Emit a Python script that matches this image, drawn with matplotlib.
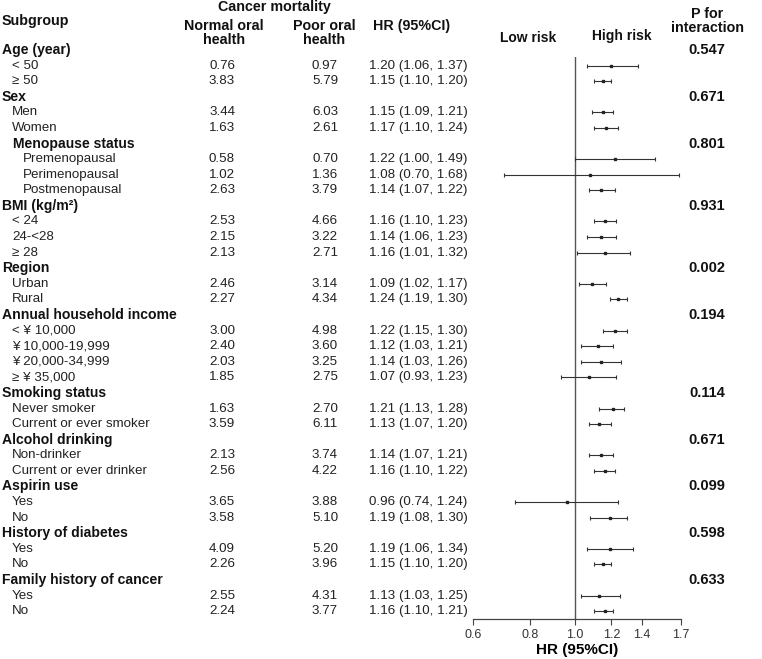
import matplotlib
matplotlib.use("Agg")
import matplotlib.pyplot as plt
from matplotlib.transforms import blended_transform_factory
import numpy as np

plt.rcParams['font.family'] = ['Liberation Sans', 'DejaVu Sans']

# ---- data ----
row_labels = ["Age (year)", "< 50", "≥ 50",
              "Sex", "Men", "Women",
              "Menopause status", "Premenopausal", "Perimenopausal", "Postmenopausal",
              "BMI (kg/m²)", "< 24", "24-<28", "≥ 28",
              "Region", "Urban", "Rural",
              "Annual household income", "< ¥ 10,000", "¥ 10,000-19,999", "¥ 20,000-34,999", "≥ ¥ 35,000",
              "Smoking status", "Never smoker", "Current or ever smoker",
              "Alcohol drinking", "Non-drinker", "Current or ever drinker",
              "Aspirin use", "Yes", "No",
              "History of diabetes", "Yes", "No",
              "Family history of cancer", "Yes", "No"]
# 0 = group header, 1 = sub-group, 2 = bold nested header, 3 = nested item
row_levels = [0, 1, 1,
              0, 1, 1,
              2, 3, 3, 3,
              0, 1, 1, 1,
              0, 1, 1,
              0, 1, 1, 1, 1,
              0, 1, 1,
              0, 1, 1,
              0, 1, 1,
              0, 1, 1,
              0, 1, 1]
p_interaction = ["0.547", "0.671", "0.801", "0.931", "0.002", "0.194",
                 "0.114", "0.671", "0.099", "0.598", "0.633"]

normal_rate = [0.76, 3.83, 3.44, 1.63, 0.58, 1.02, 2.63, 2.53, 2.15, 2.13, 2.46, 2.27,
               3.00, 2.40, 2.03, 1.85, 1.63, 3.59, 2.13, 2.56, 3.65, 3.58, 4.09, 2.26,
               2.55, 2.24]
poor_rate = [0.97, 5.79, 6.03, 2.61, 0.70, 1.36, 3.79, 4.66, 3.22, 2.71, 3.14, 4.34,
             4.98, 3.60, 3.25, 2.75, 2.70, 6.11, 3.74, 4.22, 3.88, 5.10, 5.20, 3.96,
             4.31, 3.77]
hr = [1.20, 1.15, 1.15, 1.17, 1.22, 1.08, 1.14, 1.16, 1.14, 1.16, 1.09, 1.24,
      1.22, 1.12, 1.14, 1.07, 1.21, 1.13, 1.14, 1.16, 0.96, 1.19, 1.19, 1.15,
      1.13, 1.16]
ci_low = [1.06, 1.10, 1.09, 1.10, 1.00, 0.70, 1.07, 1.10, 1.06, 1.01, 1.02, 1.19,
          1.15, 1.03, 1.03, 0.93, 1.13, 1.07, 1.07, 1.10, 0.74, 1.08, 1.06, 1.10,
          1.03, 1.10]
ci_high = [1.37, 1.20, 1.21, 1.24, 1.49, 1.68, 1.22, 1.23, 1.23, 1.32, 1.17, 1.30,
           1.30, 1.21, 1.26, 1.23, 1.28, 1.20, 1.21, 1.22, 1.24, 1.30, 1.34, 1.20,
           1.25, 1.21]
x_ticks = [0.6, 0.8, 1.0, 1.2, 1.4, 1.7]

# ---- figure ----
W, H = 762, 659
fig = plt.figure(figsize=(W / 100, H / 100), dpi=100)

def fx(px):
    return px / W

def fy(py):
    return 1 - py / H

ax_left, ax_right, ax_top, ax_bot = 473, 681, 57, 619
ax = fig.add_axes([fx(ax_left), fy(ax_bot), (ax_right - ax_left) / W, (ax_bot - ax_top) / H])
ax.set_xscale('log')
ax.set_xlim(x_ticks[0], x_ticks[-1])
ax.set_ylim(36.5, 0.45)
for s in ['left', 'top', 'right']:
    ax.spines[s].set_visible(False)
ax.spines['bottom'].set_color('#444444')
ax.spines['bottom'].set_linewidth(0.9)
ax.set_yticks([])
ax.set_xticks(x_ticks)
ax.set_xticklabels([f"{t:.1f}" for t in x_ticks])
ax.xaxis.set_minor_locator(matplotlib.ticker.NullLocator())
ax.tick_params(axis='x', direction='out', length=4, width=0.8, color='#444444',
               labelsize=9, labelcolor='#333333', pad=3)
ax.axvline(1.0, color='#555555', lw=1.0, zorder=1)
ax.set_xlabel("HR (95%CI)", fontsize=11, fontweight='bold')
ax.xaxis.set_label_coords(0.5, -(650 - ax_bot) / (ax_bot - ax_top))
ax.xaxis.label.set_va('center')

tr = blended_transform_factory(fig.transFigure, ax.transData)

fs = 9.6
fsb = 10.1
data_rows = [i for i, lv in enumerate(row_levels) if lv in (1, 3)]
header_rows = [i for i, lv in enumerate(row_levels) if lv in (0, 2)]

for i, (lab, lv) in enumerate(zip(row_labels, row_levels)):
    xoff = {0: 2, 1: 12, 2: 13, 3: 23}[lv]
    bold = lv in (0, 2)
    ax.text(fx(xoff), i, lab, transform=tr, ha='left', va='center',
            fontsize=fsb if bold else fs, fontweight='bold' if bold else 'normal',
            color='#111111' if bold else '#222222', clip_on=False)

for k, i in enumerate(data_rows):
    ax.text(fx(222), i, f"{normal_rate[k]:.2f}", transform=tr, ha='center', va='center',
            fontsize=fs, color='#222222', clip_on=False)
    ax.text(fx(325), i, f"{poor_rate[k]:.2f}", transform=tr, ha='center', va='center',
            fontsize=fs, color='#222222', clip_on=False)
    ax.text(fx(369), i, f"{hr[k]:.2f} ({ci_low[k]:.2f}, {ci_high[k]:.2f})", transform=tr,
            ha='left', va='center', fontsize=fs, color='#222222', clip_on=False)
    ax.errorbar(hr[k], i, xerr=[[hr[k] - ci_low[k]], [ci_high[k] - hr[k]]], fmt='s',
                ms=2.0, color='#222222', ecolor='#333333', elinewidth=0.8,
                capsize=1.6, capthick=0.8, zorder=3)

for k, i in enumerate(header_rows):
    ax.text(fx(707), i, p_interaction[k], transform=tr, ha='center', va='center',
            fontsize=10.5, fontweight='bold', color='#111111', clip_on=False)

# ---- column headers ----
hb = dict(fontsize=10.3, fontweight='bold', color='#111111')
fig.text(fx(274), fy(7), "Cancer mortality", ha='center', va='center', **hb)
fig.text(fx(2), fy(21), "Subgroup", ha='left', va='center', **hb)
fig.text(fx(224), fy(33), "Normal oral\nhealth", ha='center', va='center', linespacing=1.05, **hb)
fig.text(fx(324), fy(33), "Poor oral\nhealth", ha='center', va='center', linespacing=1.05, **hb)
fig.text(fx(412), fy(26), "HR (95%CI)", ha='center', va='center', **hb)
fig.text(fx(528), fy(38), "Low risk", ha='center', va='center', fontsize=10, fontweight='bold', color='#111111')
fig.text(fx(622), fy(36), "High risk", ha='center', va='center', fontsize=10, fontweight='bold', color='#111111')
fig.text(fx(707), fy(21), "P for\ninteraction", ha='center', va='center', linespacing=1.05, **hb)

fig.savefig("out.png", dpi=100)
